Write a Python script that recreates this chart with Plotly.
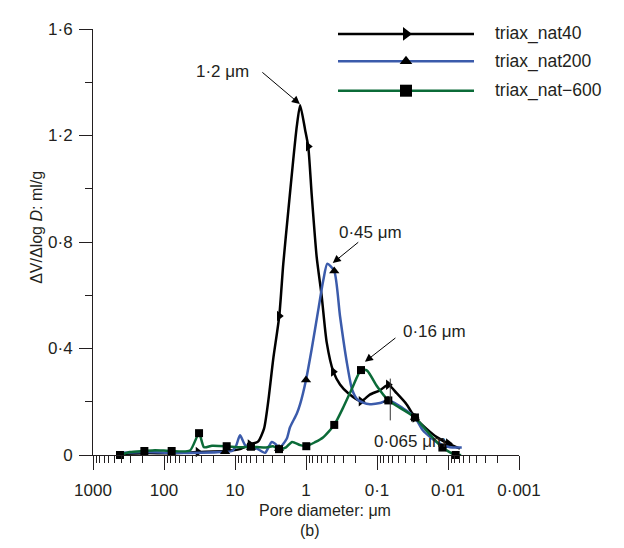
import plotly.graph_objects as go
import math

# ---------------- data (pore diameter in µm, dV/dlogD in ml/g) ----------------
d40 = [417, 191, 77, 33.2, 13.8, 8.5, 6.15, 4.74, 3.9, 3.4,
       2.89, 2.38, 2.09, 1.78, 1.51, 1.35, 1.21, 1.03, 0.93, 0.83,
       0.707, 0.601, 0.511, 0.412, 0.332, 0.254, 0.168, 0.126, 0.0908, 0.0693,
       0.0528, 0.0382, 0.0292, 0.020, 0.0144, 0.0099, 0.00678]
v40 = [0.004, 0.007, 0.007, 0.011, 0.015, 0.022, 0.04, 0.05, 0.099, 0.202,
       0.362, 0.522, 0.718, 0.914, 1.11, 1.233, 1.314, 1.222, 1.159, 0.975,
       0.743, 0.596, 0.423, 0.313, 0.265, 0.232, 0.202, 0.227, 0.243, 0.264,
       0.232, 0.19, 0.141, 0.098, 0.067, 0.043, 0.024]
m40 = [3, 6, 11, 18, 23, 26, 29, 32, 35]

d200 = [459, 191, 77, 31.1, 13.8, 11, 9.7, 8.5, 7.2, 5.96,
        4.9, 3.78, 3.04, 2.59, 2.4, 1.87, 1.68, 1.35, 1.21, 1.0,
        0.83, 0.671, 0.571, 0.501, 0.40, 0.332, 0.267, 0.225, 0.191, 0.157,
        0.126, 0.0908, 0.07, 0.0506, 0.0292, 0.0225, 0.0144, 0.0094, 0.0064]
v200 = [0.007, 0.011, 0.008, 0.008, 0.012, 0.015, 0.033, 0.074, 0.037, 0.028,
        0.024, 0.008, 0.049, 0.037, 0.024, 0.061, 0.104, 0.155, 0.191, 0.282,
        0.399, 0.546, 0.656, 0.718, 0.691, 0.522, 0.35, 0.247, 0.21, 0.197,
        0.191, 0.195, 0.206, 0.188, 0.141, 0.092, 0.049, 0.029, 0.028]
m200 = [4, 9, 14, 19, 24, 32, 34]

d600 = [417, 301, 189, 134, 78, 43, 32.1, 27.3, 21.1, 13.1,
        8.5, 5.96, 3.78, 2.92, 2.4, 1.91, 1.57, 1.21, 0.99, 0.747,
        0.576, 0.40, 0.301, 0.225, 0.168, 0.138, 0.10, 0.0693, 0.0474, 0.0292,
        0.0191, 0.012, 0.0078, 0.0065]
v600 = [0.0, 0.011, 0.015, 0.018, 0.015, 0.017, 0.082, 0.029, 0.035, 0.033,
        0.029, 0.031, 0.028, 0.033, 0.022, 0.029, 0.049, 0.037, 0.033, 0.048,
        0.066, 0.113, 0.177, 0.25, 0.319, 0.317, 0.258, 0.205, 0.177, 0.141,
        0.085, 0.028, 0.0, 0.0]
m600 = [0, 2, 4, 6, 9, 11, 14, 18, 21, 24, 27, 29, 31, 32]

series_names = ["triax_nat40", "triax_nat200", "triax_nat\u2212600"]
x_ticks = [1000, 100, 10, 1, 0.1, 0.01, 0.001]
x_ticktext = ["1000", "100", "10", "1", "0\u00b71", "0\u00b701", "0\u00b7001"]
y_ticks = [0, 0.4, 0.8, 1.2, 1.6]
y_ticktext = ["0", "0\u00b74", "0\u00b78", "1\u00b72", "1\u00b76"]

# 0.065 µm marker line
d_065 = [0.065, 0.065]
v_065 = [0.13, 0.287]

# ---------------- styling ----------------
TXT = "#231f20"
FONT = "Liberation Sans, Arial, sans-serif"
colors = ["#000000", "#3b5bab", "#0b6b38"]
symbols = ["triangle-right", "triangle-up", "square"]
msizes = [9, 9, 8]

fig = go.Figure()

data = [(d40, v40, m40), (d200, v200, m200), (d600, v600, m600)]
for (d, v, m), name, c, s, ms in zip(data, series_names, colors, symbols, msizes):
    fig.add_trace(go.Scatter(x=d, y=v, mode="lines", name=name,
                             line=dict(color=c, width=2.5, shape="spline", smoothing=0.6),
                             hoverinfo="skip", showlegend=False))
    fig.add_trace(go.Scatter(x=[d[i] for i in m], y=[v[i] for i in m], mode="markers",
                             marker=dict(symbol=s, size=ms, color="#000000", line=dict(width=0)),
                             showlegend=False, cliponaxis=False))

fig.add_trace(go.Scatter(x=d_065, y=v_065, mode="lines",
                         line=dict(color="#333333", width=1), showlegend=False))

# ---------------- manual legend on pixel-like overlay axes ----------------
leg_y = [25, 53, 83]
leg_x0, leg_x1, leg_xm, leg_tx = 338, 474, 406, 493
leg_ms = [12, 11, 12]
for yy, name, c, s, ms in zip(leg_y, series_names, colors, symbols, leg_ms):
    fig.add_trace(go.Scatter(x=[leg_x0, leg_x1], y=[yy, yy], mode="lines",
                             line=dict(color=c, width=2.5), xaxis="x2", yaxis="y2",
                             showlegend=False, cliponaxis=False))
    fig.add_trace(go.Scatter(x=[leg_xm], y=[yy], mode="markers", xaxis="x2", yaxis="y2",
                             marker=dict(symbol=s, size=ms, color="#000000"),
                             showlegend=False, cliponaxis=False))
    fig.add_annotation(x=leg_tx, y=yy, xref="x2", yref="y2", text=name, showarrow=False,
                       xanchor="left", yanchor="middle",
                       font=dict(size=17.5, color=TXT, family=FONT))

axis_common = dict(showline=True, linecolor=TXT, linewidth=1, ticks="outside",
                   tickcolor=TXT, tickwidth=1, showgrid=False, zeroline=False,
                   tickfont=dict(size=17, color=TXT, family=FONT))

# page body has an 8px margin, so the figure is sized/placed to compensate
fig.update_layout(
    width=608, height=532,
    margin=dict(l=85, r=97, t=12, b=85),
    plot_bgcolor="white", paper_bgcolor="white",
    showlegend=False,
    font=dict(family=FONT, size=16, color=TXT),
    xaxis=dict(type="log", range=[3, -3], tickmode="array", tickvals=x_ticks,
               ticktext=x_ticktext, ticklen=14, ticklabelstandoff=6,
               minor=dict(ticks="outside", ticklen=7, tickcolor=TXT, tickwidth=1,
                          dtick="D1", showgrid=False),
               **axis_common),
    yaxis=dict(range=[0, 1.6], tickmode="array", tickvals=y_ticks, ticktext=y_ticktext,
               ticklen=13, ticklabelstandoff=3,
               minor=dict(ticks="outside", ticklen=7, tickcolor=TXT, tickwidth=1,
                          tick0=0, dtick=0.2, showgrid=False),
               **axis_common),
    xaxis2=dict(overlaying="x", range=[93, 519], visible=False, fixedrange=True),
    yaxis2=dict(overlaying="y", range=[455, 20], visible=False, fixedrange=True),
)

# ---------------- annotations ----------------
def lx(v):
    return math.log10(v)

ann_font = dict(size=17, color=TXT, family=FONT)
# arrows (head at data point, tail offset in pixels)
arrows = [((1.22, 1.318), (-39, -33)),
          ((0.42, 0.721), (27, -22)),
          ((0.148, 0.35), (32, -25))]
for (xd, yd), (ax, ay) in arrows:
    fig.add_annotation(x=lx(xd), y=yd, xref="x", yref="y", text="", showarrow=True,
                       ax=ax, ay=ay, arrowhead=2, arrowsize=1.6, arrowwidth=1,
                       arrowcolor="#000000")

labels = [("1\u00b72 \u03bcm", 14.8, 1.44),
          ("0\u00b745 \u03bcm", 0.122, 0.835),
          ("0\u00b716 \u03bcm", 0.0155, 0.464),
          ("0\u00b7065 \u03bcm", 0.034, 0.051)]
for t, xd, yd in labels:
    fig.add_annotation(x=lx(xd), y=yd, xref="x", yref="y", text=t, showarrow=False,
                       xanchor="center", yanchor="middle", font=ann_font)

fig.add_annotation(x=(325 - 93) / 426, y=(455 - 512) / 435, xref="paper", yref="paper",
                   text="Pore diameter: \u03bcm", showarrow=False, xanchor="center",
                   yanchor="middle", font=dict(size=16, color=TXT, family=FONT))
fig.add_annotation(x=(310 - 93) / 426, y=(455 - 532) / 435, xref="paper", yref="paper",
                   text="(b)", showarrow=False, xanchor="center",
                   yanchor="middle", font=dict(size=16, color=TXT, family=FONT))
fig.add_annotation(x=(37 - 93) / 426, y=(455 - 222) / 435, xref="paper", yref="paper",
                   text="\u0394V/\u0394log <i>D</i>: ml/g", showarrow=False, textangle=-90,
                   xanchor="center", yanchor="middle",
                   font=dict(size=16, color=TXT, family=FONT))

fig.write_html("out.html")
